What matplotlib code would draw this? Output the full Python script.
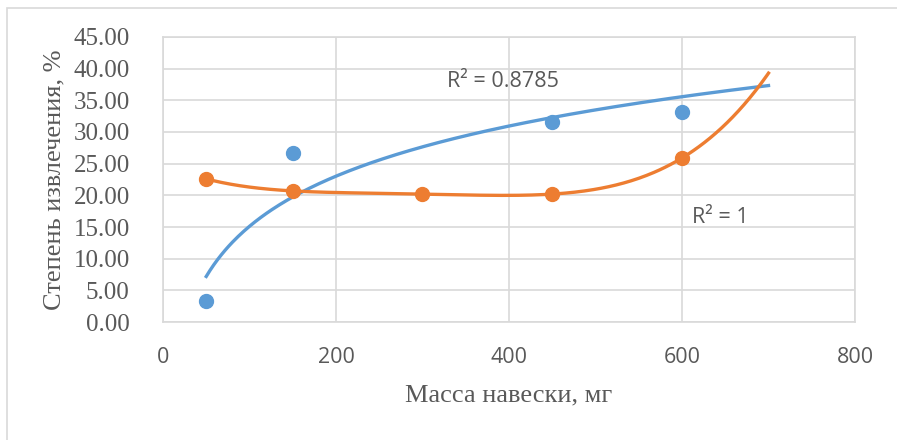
import numpy as np
import matplotlib.pyplot as plt
from matplotlib.patches import Rectangle

# масса навески, мг / степень извлечения, %
x_blue = [50, 150, 450, 600]
y_blue = [3.4, 26.7, 31.6, 33.1]
x_orange = [50, 150, 300, 450, 600]
y_orange = [22.6, 20.7, 20.2, 20.2, 25.9]

xticks = [0, 200, 400, 600, 800]
yticks = [0, 5, 10, 15, 20, 25, 30, 35, 40, 45]

blue = '#5B9BD5'
orange = '#ED7D31'
txt = '#595959'
grid = '#D9D9D9'

fig = plt.figure(figsize=(8.97, 4.4), dpi=100)
ax = fig.add_axes([0.1817, 0.268, 0.7715, 0.648])

# frame around the whole chart
fig.patches.append(Rectangle((0.008, -0.1), 1.2, 1.082, transform=fig.transFigure,
                             fill=False, edgecolor=grid, lw=1.2))

# log trendline for blue series
a, b = np.polyfit(np.log(x_blue), y_blue, 1)
xs = np.linspace(50, 700, 300)
ax.plot(xs, a * np.log(xs) + b, color=blue, lw=2.4, zorder=3)

# 4th order polynomial for orange series
p = np.polyfit(x_orange, y_orange, 4)
ax.plot(xs, np.polyval(p, xs), color=orange, lw=2.4, zorder=3)

ax.plot(x_blue, y_blue, 'o', color=blue, ms=10, zorder=4)
ax.plot(x_orange, y_orange, 'o', color=orange, ms=10, zorder=4)

ax.text(328, 37.9, 'R² = 0.8785', color=txt, fontsize=15.5, family='Open Sans',
        va='center', ha='left')
ax.text(611, 16.5, 'R² = 1', color=txt, fontsize=15.5, family='Open Sans',
        va='center', ha='left')

ax.set_xlim(0, 800)
ax.set_ylim(0, 45)
ax.set_xticks(xticks)
ax.set_yticks(yticks)
ax.set_xticklabels([str(v) for v in xticks], family='Open Sans', fontsize=15.5, color=txt)
ax.set_yticklabels(['%.2f' % v for v in yticks], family='Liberation Serif', fontsize=18, color=txt)
ax.tick_params(length=0)
ax.tick_params(axis='x', pad=18)
ax.tick_params(axis='y', pad=24)
ax.grid(color=grid, lw=1.2)
ax.set_axisbelow(True)
for s in ax.spines.values():
    s.set_color(grid)
    s.set_linewidth(1.2)

ax.set_xlabel('Масса навески, мг', family='Liberation Serif', fontsize=19, color=txt, labelpad=12)
ax.set_ylabel('Степень извлечения, %', family='Liberation Serif', fontsize=19, color=txt, labelpad=6)

fig.savefig('out.png', dpi=100)
